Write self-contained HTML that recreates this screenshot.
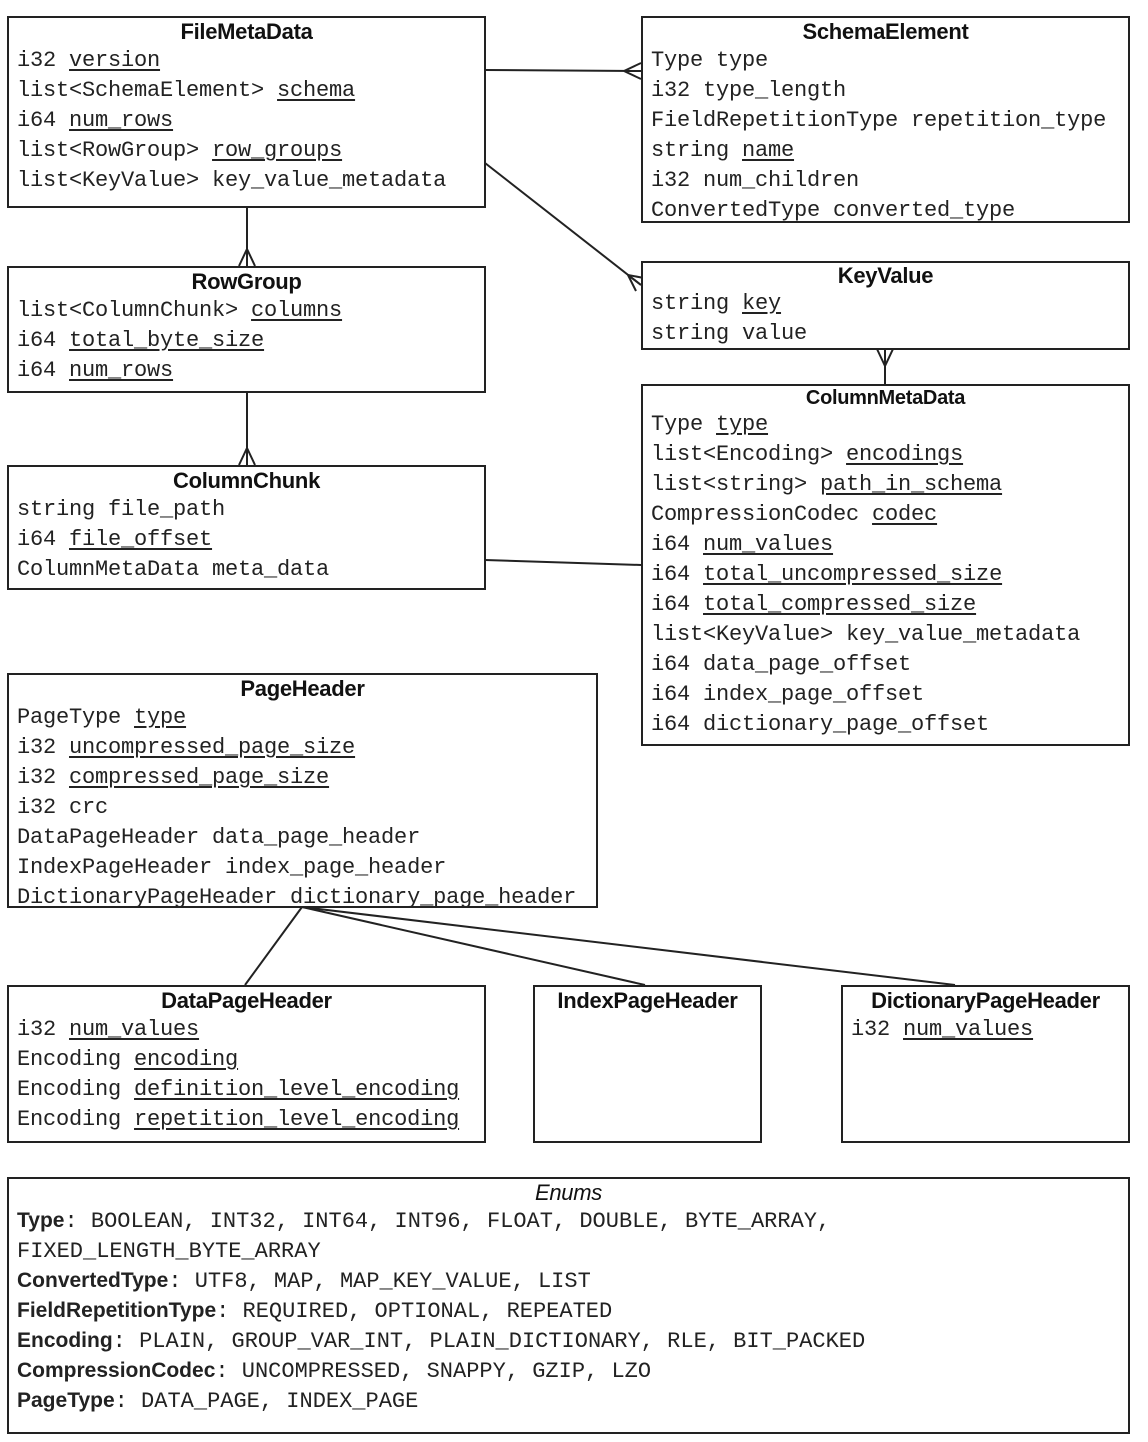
<!DOCTYPE html>
<html><head><meta charset="utf-8"><style>
body{margin:0;width:1148px;height:1442px;background:#fff;position:relative;overflow:hidden}
.b{position:absolute;border:2px solid #222;box-sizing:border-box;background:#fff}
.t{font:bold 22px/28px "Liberation Sans",sans-serif;text-align:center;color:#111;letter-spacing:-0.3px}
.f{font:22px/30px "Liberation Mono",monospace;color:#222;padding-left:8px;white-space:pre;letter-spacing:-0.2px}
u{text-decoration:underline;text-underline-offset:3px}
.e{font:22px/30px "Liberation Mono",monospace;color:#222;padding-left:8px;white-space:pre}
.e b{font:bold 21px "Liberation Sans",sans-serif}
svg{position:absolute;left:0;top:0}
</style></head><body>
<svg width="1148" height="1442" stroke="#222" stroke-width="2" fill="none">
<line x1="485" y1="70" x2="641" y2="71"/><path d="M624 71L641 63M624 71L641 79M624 71L641 71"/>
<line x1="485" y1="163" x2="641" y2="285"/><path d="M628 275L641 285M628 275L636 291M628 275L644 278"/>
<line x1="247" y1="207" x2="247" y2="266"/><path d="M247 249L239 266M247 249L255 266"/>
<line x1="247" y1="392" x2="247" y2="465"/><path d="M247 448L239 465M247 448L255 465"/>
<line x1="885" y1="349" x2="885" y2="384"/><path d="M885 366L877 349M885 366L893 349"/>
<line x1="485" y1="560" x2="641" y2="565"/>
<line x1="302" y1="907" x2="245" y2="985"/>
<line x1="302" y1="907" x2="645" y2="985"/>
<line x1="302" y1="907" x2="955" y2="985"/>
</svg>
<div class="b" style="left:7px;top:16px;width:479px;height:192px"><div class="t">FileMetaData</div><div class="f">i32 <u>version</u>
list&lt;SchemaElement&gt; <u>schema</u>
i64 <u>num_rows</u>
list&lt;RowGroup&gt; <u>row_groups</u>
list&lt;KeyValue&gt; key_value_metadata</div></div>
<div class="b" style="left:641px;top:16px;width:489px;height:207px"><div class="t">SchemaElement</div><div class="f">Type type
i32 type_length
FieldRepetitionType repetition_type
string <u>name</u>
i32 num_children
ConvertedType converted_type</div></div>
<div class="b" style="left:7px;top:266px;width:479px;height:127px"><div class="t">RowGroup</div><div class="f">list&lt;ColumnChunk&gt; <u>columns</u>
i64 <u>total_byte_size</u>
i64 <u>num_rows</u></div></div>
<div class="b" style="left:641px;top:261px;width:489px;height:89px"><div class="t" style="line-height:26px">KeyValue</div><div class="f">string <u>key</u>
string value</div></div>
<div class="b" style="left:7px;top:465px;width:479px;height:125px"><div class="t">ColumnChunk</div><div class="f">string file_path
i64 <u>file_offset</u>
ColumnMetaData meta_data</div></div>
<div class="b" style="left:641px;top:384px;width:489px;height:362px"><div class="t" style="font-size:20px;line-height:24px">ColumnMetaData</div><div class="f">Type <u>type</u>
list&lt;Encoding&gt; <u>encodings</u>
list&lt;string&gt; <u>path_in_schema</u>
CompressionCodec <u>codec</u>
i64 <u>num_values</u>
i64 <u>total_uncompressed_size</u>
i64 <u>total_compressed_size</u>
list&lt;KeyValue&gt; key_value_metadata
i64 data_page_offset
i64 index_page_offset
i64 dictionary_page_offset</div></div>
<div class="b" style="left:7px;top:673px;width:591px;height:235px"><div class="t">PageHeader</div><div class="f">PageType <u>type</u>
i32 <u>uncompressed_page_size</u>
i32 <u>compressed_page_size</u>
i32 crc
DataPageHeader data_page_header
IndexPageHeader index_page_header
DictionaryPageHeader dictionary_page_header</div></div>
<div class="b" style="left:7px;top:985px;width:479px;height:158px"><div class="t">DataPageHeader</div><div class="f">i32 <u>num_values</u>
Encoding <u>encoding</u>
Encoding <u>definition_level_encoding</u>
Encoding <u>repetition_level_encoding</u></div></div>
<div class="b" style="left:533px;top:985px;width:229px;height:158px"><div class="t">IndexPageHeader</div></div>
<div class="b" style="left:841px;top:985px;width:289px;height:158px"><div class="t">DictionaryPageHeader</div><div class="f">i32 <u>num_values</u></div></div>
<div class="b" style="left:7px;top:1177px;width:1123px;height:257px"><div class="t" style="font-weight:normal;font-style:italic">Enums</div><div class="e"><b>Type</b>: BOOLEAN, INT32, INT64, INT96, FLOAT, DOUBLE, BYTE_ARRAY,
FIXED_LENGTH_BYTE_ARRAY
<b>ConvertedType</b>: UTF8, MAP, MAP_KEY_VALUE, LIST
<b>FieldRepetitionType</b>: REQUIRED, OPTIONAL, REPEATED
<b>Encoding</b>: PLAIN, GROUP_VAR_INT, PLAIN_DICTIONARY, RLE, BIT_PACKED
<b>CompressionCodec</b>: UNCOMPRESSED, SNAPPY, GZIP, LZO
<b>PageType</b>: DATA_PAGE, INDEX_PAGE</div></div>
</body></html>
